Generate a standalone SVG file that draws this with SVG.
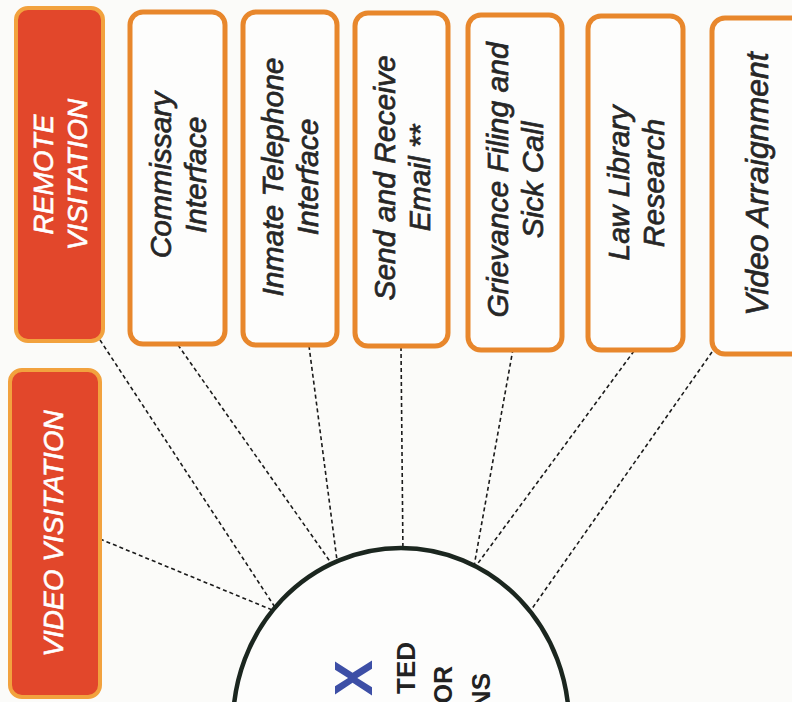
<svg xmlns="http://www.w3.org/2000/svg" width="792" height="702" viewBox="0 0 792 702">
  <style>
    .box { fill: #fdfdfc; stroke: #e8872c; stroke-width: 5; }
    .hot { fill: #e2472b; stroke: #f2a23e; stroke-width: 4; }
    .lbl { font-family: "Liberation Sans", Arial, sans-serif; font-size: 30px; font-style: italic; fill: #262626; stroke: #262626; stroke-width: 0.7; text-anchor: middle; }
    .lblw { font-family: "Liberation Sans", Arial, sans-serif; font-size: 28px; font-style: italic; fill: #ffffff; stroke: #ffffff; stroke-width: 0.6; text-anchor: middle; }
    .link { stroke: #1a1a1a; stroke-width: 1.6; stroke-dasharray: 4 3; fill: none; }
    .hub { fill: #fdfdfc; stroke: #1b261f; stroke-width: 4.5; }
    .core { font-family: "Liberation Sans", Arial, sans-serif; font-weight: bold; fill: #222222; text-anchor: end; }
  </style>
  <rect x="0" y="0" width="792" height="702" fill="#fbfbf9"/>

  <!-- dashed spokes from each feature box to the hub -->
  <g id="connectors">
    <line class="link" x1="100" y1="340" x2="282" y2="618"/>
    <line class="link" x1="100" y1="539" x2="282" y2="614"/>
    <line class="link" x1="178" y1="345" x2="336" y2="570"/>
    <line class="link" x1="309" y1="346" x2="338" y2="568"/>
    <line class="link" x1="401" y1="347" x2="403" y2="556"/>
    <line class="link" x1="513" y1="349" x2="473" y2="572"/>
    <line class="link" x1="634" y1="351" x2="473" y2="570"/>
    <line class="link" x1="712" y1="352" x2="524" y2="620"/>
  </g>

  <!-- central hub -->
  <g id="hub">
    <ellipse class="hub" cx="401" cy="724" rx="168" ry="176"/>
    <text class="core" font-size="54" style="fill:#3d4fa6" transform="translate(372,660) rotate(-90)">X</text>
    <text class="core" font-size="26" transform="translate(415,642) rotate(-90)">TED</text>
    <text class="core" font-size="25" transform="translate(452,666) rotate(-90)">OR</text>
    <text class="core" font-size="26" transform="translate(490,673) rotate(-90)">NS</text>
  </g>

  <g id="remote-visitation">
    <rect class="hot" x="16" y="8" width="87" height="333" rx="12"/>
    <text class="lblw" transform="translate(59.5,174.5) rotate(-90)"><tspan x="0" y="-6.5">REMOTE</tspan><tspan x="0" y="27.5">VISITATION</tspan></text>
  </g>

  <g id="video-visitation">
    <rect class="hot" x="10" y="370" width="90" height="327" rx="12"/>
    <text class="lblw" transform="translate(55,533.5) rotate(-90)"><tspan x="0" y="8">VIDEO VISITATION</tspan></text>
  </g>

  <g id="commissary">
    <rect class="box" x="130" y="12" width="95" height="332" rx="13"/>
    <text class="lbl" transform="translate(177.5,175) rotate(-90)"><tspan x="0" y="-6.8">Commissary</tspan><tspan x="0" y="28.2">Interface</tspan></text>
  </g>

  <g id="inmate-telephone">
    <rect class="box" x="243" y="12" width="94" height="333" rx="13"/>
    <text class="lbl" transform="translate(290,177) rotate(-90)"><tspan x="0" y="-6.8">Inmate Telephone</tspan><tspan x="0" y="28.2">Interface</tspan></text>
  </g>

  <g id="email">
    <rect class="box" x="355" y="13" width="93" height="333" rx="13"/>
    <text class="lbl" transform="translate(401.5,178) rotate(-90)"><tspan x="0" y="-6.8">Send and Receive</tspan><tspan x="0" y="28.2">Email **</tspan></text>
  </g>

  <g id="grievance">
    <rect class="box" x="468" y="15" width="94" height="335" rx="13"/>
    <text class="lbl" transform="translate(515,180) rotate(-90)"><tspan x="0" y="-6.8">Grievance Filing and</tspan><tspan x="0" y="28.2">Sick Call</tspan></text>
  </g>

  <g id="law-library">
    <rect class="box" x="588" y="16" width="95" height="334" rx="13"/>
    <text class="lbl" transform="translate(635.5,183) rotate(-90)"><tspan x="0" y="-6.8">Law Library</tspan><tspan x="0" y="28.2">Research</tspan></text>
  </g>

  <g id="video-arraignment">
    <rect class="box" x="712" y="18" width="100" height="336" rx="13"/>
    <text class="lbl" font-size="32" style="font-size:32px" transform="translate(757,184) rotate(-90)"><tspan x="0" y="11.4">Video Arraignment</tspan></text>
  </g>
</svg>
